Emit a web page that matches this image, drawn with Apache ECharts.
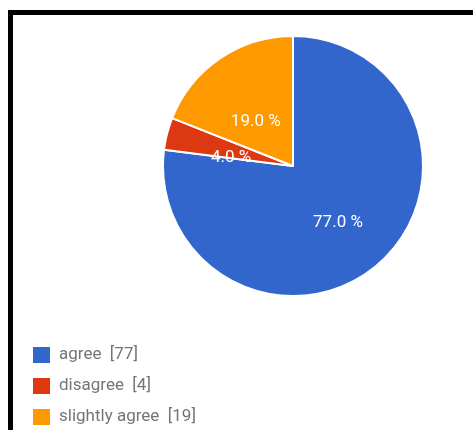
<!DOCTYPE html>
<html>
<head>
<meta charset="utf-8">
<script src="https://cdn.jsdelivr.net/npm/echarts@6/dist/echarts.min.js"></script>
<style>
html,body{margin:0;padding:0;background:#fff;}
#c{width:473px;height:430px;}
</style>
</head>
<body>
<div id="c"></div>
<script>
const categories = ['agree', 'disagree', 'slightly agree'];
const values = [77, 4, 19];
const colors = ['#3366CC', '#DC3912', '#FF9900'];

const total = values.reduce((a, b) => a + b, 0);
const labelShift = [[0, 6], [4, 9], [1, 12]];
const chart = echarts.init(document.getElementById('c'), null, {renderer: 'canvas'});
chart.setOption({
  animation: false,
  backgroundColor: '#ffffff',
  color: colors,
  graphic: [
    {type: 'rect', shape: {x: 8, y: 10, width: 465, height: 5}, style: {fill: '#000'}},
    {type: 'rect', shape: {x: 8, y: 10, width: 5, height: 420}, style: {fill: '#000'}}
  ],
  legend: {
    orient: 'vertical',
    left: 31,
    top: 345,
    padding: 0,
    itemWidth: 19,
    itemHeight: 18,
    itemGap: 11,
    icon: 'rect',
    textStyle: {color: '#757575', fontSize: 17, fontFamily: 'Roboto', padding: [0, 0, 0, 3]},
    formatter: function (name) {
      const i = categories.indexOf(name);
      return name + '  [' + values[i] + ']';
    },
    data: categories
  },
  series: [{
    type: 'pie',
    center: [293, 166],
    radius: [0, 130],
    startAngle: 90,
    clockwise: true,
    itemStyle: {borderColor: '#ffffff', borderWidth: 2},
    label: {
      position: 'inside',
      color: '#ffffff',
      fontSize: 17,
      fontFamily: 'Roboto',
      formatter: function (p) { return (p.value / total * 100).toFixed(1) + ' %'; }
    },
    labelLayout: function (p) {
      const s = labelShift[p.dataIndex];
      return {dx: s[0], dy: s[1]};
    },
    labelLine: {show: false},
    emphasis: {disabled: true},
    data: categories.map((n, i) => ({name: n, value: values[i]}))
  }]
});
</script>
</body>
</html>
